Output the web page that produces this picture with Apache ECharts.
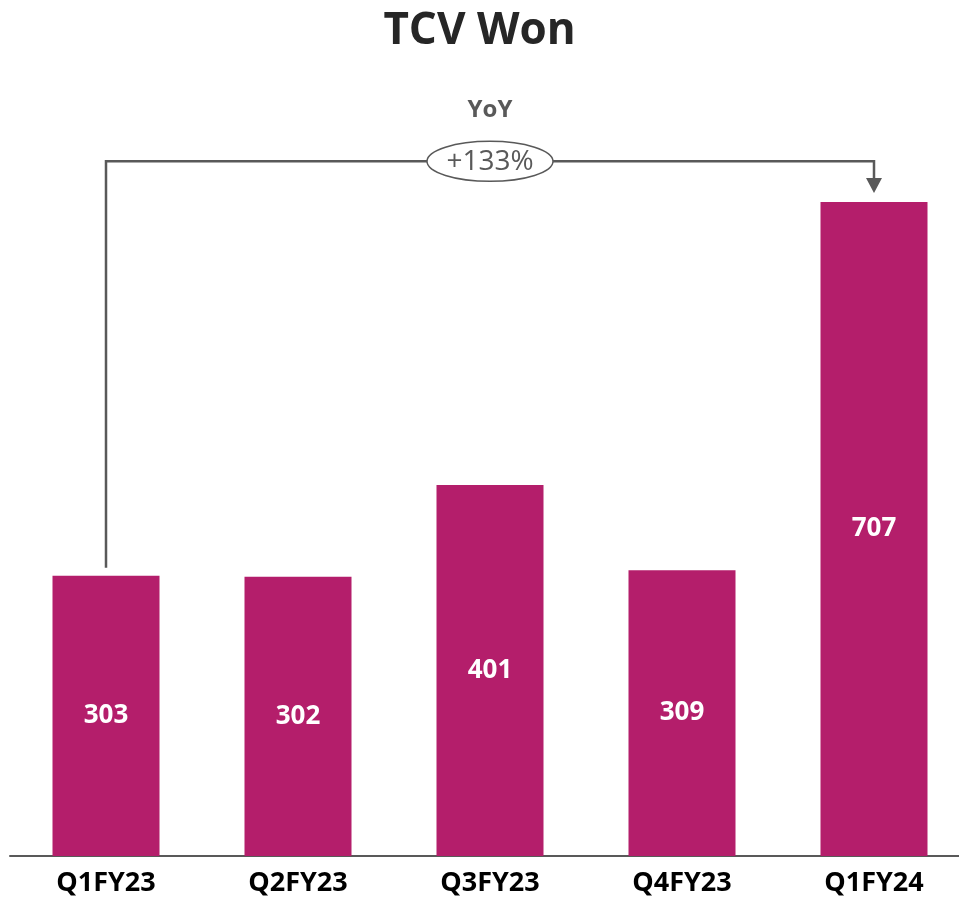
<!DOCTYPE html>
<html>
<head>
<meta charset="utf-8">
<script src="https://cdn.jsdelivr.net/npm/echarts@6/dist/echarts.min.js"></script>
<style>
html,body{margin:0;padding:0;background:#fff;}
#main{width:959px;height:899px;}
</style>
</head>
<body>
<div id="main"></div>
<script>
var categories = ['Q1FY23', 'Q2FY23', 'Q3FY23', 'Q4FY23', 'Q1FY24'];
var tcvValues = [303, 302, 401, 309, 707];
var yoyLabel = '+133%';
var yoyTitle = 'YoY';
var bracketLevel = 751;

var FONT = '"Open Sans", "Noto Sans", sans-serif';
var chart = echarts.init(document.getElementById('main'));

var option = {
  animation: false,
  backgroundColor: '#ffffff',
  title: {
    text: 'TCV Won',
    left: 'center',
    top: 4,
    textStyle: { fontFamily: FONT, fontSize: 44, fontWeight: 'bold', color: '#262626' }
  },
  grid: { left: 10, right: -11, top: 116, bottom: 43, outerBoundsMode: 'none', containLabel: false },
  xAxis: {
    type: 'category',
    data: categories,
    axisLine: { show: true, lineStyle: { color: '#595959', width: 2 } },
    axisTick: { show: false },
    axisLabel: { fontFamily: FONT, fontSize: 27, fontWeight: 'bold', color: '#000000', margin: 14 }
  },
  yAxis: {
    type: 'value',
    min: 0,
    max: 800,
    show: false,
    splitLine: { show: false }
  },
  series: [{
    type: 'bar',
    data: tcvValues,
    barWidth: 107,
    itemStyle: { color: '#B41E6B' },
    label: {
      show: true,
      position: 'inside',
      fontFamily: FONT,
      fontSize: 26,
      fontWeight: 'bold',
      color: '#ffffff'
    }
  }]
};
chart.setOption(option);

function drawBracket() {
  var p0 = chart.convertToPixel({ gridIndex: 0 }, [0, tcvValues[0]]);
  var p4 = chart.convertToPixel({ gridIndex: 0 }, [4, tcvValues[4]]);
  var yb = chart.convertToPixel({ gridIndex: 0 }, [0, bracketLevel])[1];
  var x0 = Math.round(p0[0]), x4 = Math.round(p4[0]);
  var yStart = p0[1] - 8;
  var yTip = p4[1] - 9;
  var cx = (x0 + x4) / 2;
  var lineColor = '#595959';
  chart.setOption({
    graphic: [
      {
        type: 'polyline',
        shape: { points: [[x0, yStart], [x0, yb], [x4, yb], [x4, yTip - 12]] },
        style: { stroke: lineColor, lineWidth: 2.5, fill: null },
        z: 10
      },
      {
        type: 'polygon',
        shape: { points: [[x4 - 8, yTip - 15], [x4 + 8, yTip - 15], [x4, yTip]] },
        style: { fill: lineColor },
        z: 10
      },
      {
        type: 'ellipse',
        shape: { cx: cx, cy: yb, rx: 63, ry: 20 },
        style: { fill: '#ffffff', stroke: lineColor, lineWidth: 1.5 },
        z: 11
      },
      {
        type: 'text',
        x: cx, y: yb + 1,
        style: {
          text: yoyLabel, fontFamily: FONT, fontSize: 28, fill: lineColor,
          align: 'center', verticalAlign: 'middle'
        },
        z: 12
      },
      {
        type: 'text',
        x: cx, y: yb - 51,
        style: {
          text: yoyTitle, fontFamily: FONT, fontSize: 24, fontWeight: 'bold', fill: lineColor,
          align: 'center', verticalAlign: 'middle'
        },
        z: 12
      }
    ]
  });
}
drawBracket();
</script>
</body>
</html>
